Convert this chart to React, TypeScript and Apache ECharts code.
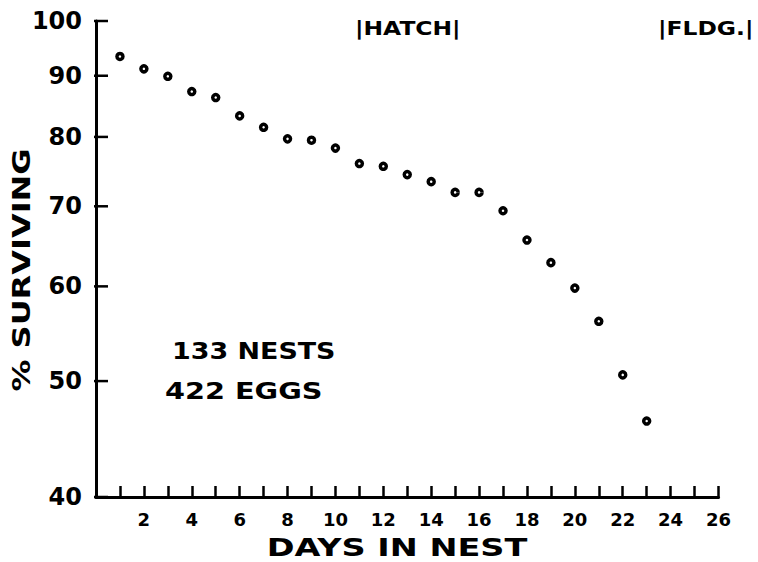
import React, { useEffect, useRef } from "react";
import * as echarts from "echarts";

const days = [1, 2, 3, 4, 5, 6, 7, 8, 9, 10, 11, 12, 13, 14, 15, 16, 17, 18, 19, 20, 21, 22, 23];
const survival = [93.4, 91.2, 89.9, 87.3, 86.3, 83.3, 81.5, 79.7, 79.5, 78.3, 76.0, 75.6, 74.4, 73.4, 71.9, 71.9, 69.4, 65.6, 62.8, 59.8, 56.1, 50.6, 46.3];
const yTicks = [40, 50, 60, 70, 80, 90, 100];
const xLabelDays = [2, 4, 6, 8, 10, 12, 14, 16, 18, 20, 22, 24, 26];
const xTitle = "DAYS IN NEST";
const yTitle = "% SURVIVING";
const notes = ["133 NESTS", "422 EGGS"];
const stages = ["|HATCH|", "|FLDG.|"];

const FONT = '"DejaVu Sans", sans-serif';

export default function App() {
  const ref = useRef<HTMLDivElement>(null);
  useEffect(() => {
    document.body.style.margin = "0";
    const chart = echarts.init(ref.current!, null, { renderer: "svg" });
    chart.setOption({
      animation: false,
      backgroundColor: "#fff",
      grid: { left: 96, top: 21, right: 39.5, bottom: 65 },
      xAxis: {
        type: "value",
        min: 0,
        max: 26,
        interval: 1,
        axisLine: { lineStyle: { color: "#000", width: 3 } },
        axisTick: { inside: true, length: 11, lineStyle: { color: "#000", width: 2.5 } },
        axisLabel: {
          formatter: (v: number) => (xLabelDays.indexOf(v) >= 0 ? String(v) : ""),
          fontSize: 18,
          fontWeight: "bold",
          fontFamily: FONT,
          color: "#000",
          margin: 13,
        },
        splitLine: { show: false },
      },
      yAxis: {
        type: "log",
        logBase: 10,
        min: 40,
        max: 100,
        offset: 2,
        axisLine: { show: true, lineStyle: { color: "#000", width: 3 } },
        axisTick: { show: false },
        axisLabel: { show: false },
        splitLine: { show: false },
      },
      graphic: [
        { type: "text", x: 397, y: 548, scaleX: 1.34, style: { text: xTitle, font: `bold 25px ${FONT}`, fill: "#000", align: "center", verticalAlign: "middle" } },
        { type: "text", x: 21, y: 270, rotation: Math.PI / 2, scaleX: 1.28, style: { text: yTitle, font: `bold 25px ${FONT}`, fill: "#000", align: "center", verticalAlign: "middle" } },
        { type: "text", x: 172, y: 351, scaleX: 1.17, style: { text: notes[0], font: `bold 23px ${FONT}`, fill: "#000", verticalAlign: "middle" } },
        { type: "text", x: 165, y: 391, scaleX: 1.25, style: { text: notes[1], font: `bold 23px ${FONT}`, fill: "#000", verticalAlign: "middle" } },
        { type: "text", x: 355, y: 28, scaleX: 1.17, style: { text: stages[0], font: `bold 20px ${FONT}`, fill: "#000", verticalAlign: "middle" } },
        { type: "text", x: 658, y: 28, scaleX: 1.17, style: { text: stages[1], font: `bold 20px ${FONT}`, fill: "#000", verticalAlign: "middle" } },
      ],
      series: [
        {
          type: "custom",
          coordinateSystem: "cartesian2d",
          silent: true,
          clip: false,
          data: yTicks.map((v) => [0, v]),
          renderItem: (params: any, api: any) => {
            const p = api.coord([api.value(0), api.value(1)]);
            return {
              type: "group",
              children: [
                { type: "line", shape: { x1: p[0] - 2, y1: p[1], x2: p[0] + 12, y2: p[1] }, style: { stroke: "#000", lineWidth: 2.5 } },
                {
                  type: "text",
                  x: p[0] - 14,
                  y: p[1],
                  style: { text: String(api.value(1)), font: `bold 24px ${FONT}`, fill: "#000", align: "right", verticalAlign: "middle" },
                },
              ],
            };
          },
        },
        {
          type: "scatter",
          data: days.map((d, i) => [d, survival[i]]),
          symbol: "circle",
          symbolSize: 6,
          itemStyle: { color: "#fff", borderColor: "#000", borderWidth: 3.5, opacity: 1 },
        },
      ],
    });
    return () => chart.dispose();
  }, []);
  return <div ref={ref} style={{ width: 758, height: 562 }} />;
}
